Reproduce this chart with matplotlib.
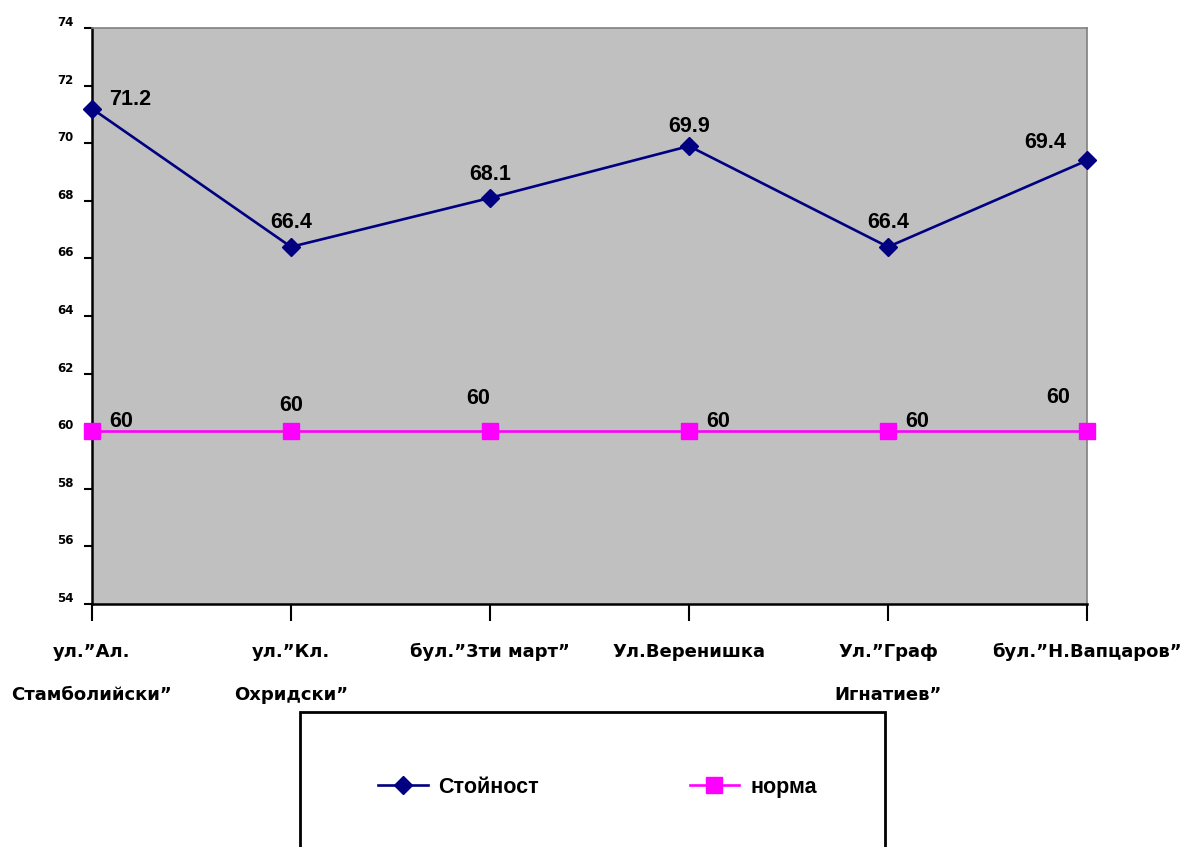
import matplotlib
matplotlib.use('Agg')
import matplotlib.pyplot as plt
from matplotlib.patches import Rectangle
from matplotlib.transforms import ScaledTranslation

plt.rcParams['font.family'] = ['Liberation Sans', 'DejaVu Sans']
plt.rcParams['font.weight'] = 'bold'

# данни
kategorii = ['ул.”Ал.\nСтамболийски”', 'ул.”Кл.\nОхридски”', 'бул.”3ти март”',
             'Ул.Веренишка', 'Ул.”Граф\nИгнатиев”', 'бул.”Н.Вапцаров”']
stoinost = [71.2, 66.4, 68.1, 69.9, 66.4, 69.4]
norma = [60, 60, 60, 60, 60, 60]

# отмествания на надписите (пиксели)
off_st = [(17, 9, 'left'), (0, 24, 'center'), (0, 23, 'center'), (0, 20, 'center'),
          (0, 24, 'center'), (-21, 18, 'right')]
off_n = [(17, 10, 'left'), (0, 26, 'center'), (-12, 33, 'center'), (17, 10, 'left'),
         (17, 10, 'left'), (-17, 34, 'right')]

fig = plt.figure(figsize=(11.84, 8.47), dpi=100)
ax = fig.add_axes([92/1184, 1-604/847, (1087-92)/1184, (604-28)/847])
ax.set_facecolor('#C0C0C0')

x = list(range(len(kategorii)))
ax.plot(x, stoinost, color='#000080', lw=1.9, marker='D', ms=9, clip_on=False, zorder=3, label='Стойност')
ax.plot(x, norma, color='#FF00FF', lw=1.9, marker='s', ms=11, clip_on=False, zorder=3, label='норма')

for i in x:
    dx, dy, ha = off_st[i]
    ax.annotate(str(stoinost[i]), (i, stoinost[i]), xytext=(dx, dy), textcoords='offset pixels',
                ha=ha, va='center', fontsize=15.5, fontweight='bold')
    dx, dy, ha = off_n[i]
    ax.annotate(str(norma[i]), (i, norma[i]), xytext=(dx, dy), textcoords='offset pixels',
                ha=ha, va='center', fontsize=15.5, fontweight='bold')

ax.set_xlim(0, 5)
ax.set_ylim(54, 74)
ax.set_yticks(range(54, 75, 2))
ax.set_xticks(x)
ax.set_xticklabels(kategorii, fontsize=13, fontweight='bold', linespacing=2.8, family='DejaVu Sans')

ax.tick_params(axis='y', direction='out', length=6, width=1.5, pad=7)
ax.tick_params(axis='x', direction='out', length=12, width=1.5, pad=16)
for lab in ax.get_yticklabels():
    lab.set_fontsize(8.5)
    lab.set_fontweight('bold')
    lab.set_family('DejaVu Sans')
    lab.set_transform(lab.get_transform() + ScaledTranslation(0, 7/100, fig.dpi_scale_trans))

for s in ['left', 'bottom']:
    ax.spines[s].set_linewidth(1.8)
    ax.spines[s].set_color('black')
for s in ['top', 'right']:
    ax.spines[s].set_linewidth(1.2)
    ax.spines[s].set_color('#808080')

# рамка на легендата
fig.patches.append(Rectangle((300/1184, -0.1), 585/1184, 0.1 + 1 - 712/847, transform=fig.transFigure,
                             fill=False, edgecolor='black', lw=2))
fig.legend(loc='center left', bbox_to_anchor=(378/1184, 1-787/847), ncol=2, frameon=False,
           handlelength=2.3, handletextpad=0.5, columnspacing=7.0,
           borderpad=0, borderaxespad=0, prop={'weight': 'bold', 'size': 15.5})

fig.savefig('out.png', dpi=100)
